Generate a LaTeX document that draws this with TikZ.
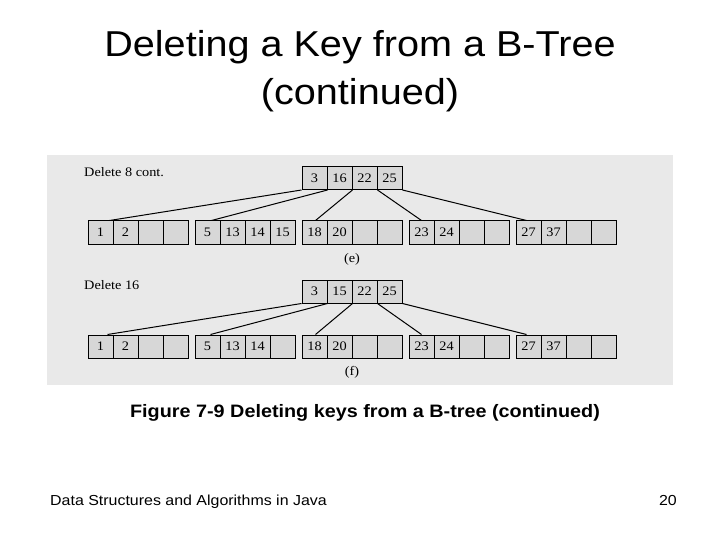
\documentclass[tikz,border=0pt]{standalone}
\usepackage{fontspec}
\setmainfont[FakeStretch=1.1]{Liberation Sans}
\newfontfamily\figfont[FakeStretch=1.1]{Liberation Serif}
\usetikzlibrary{calc}
\definecolor{bggray}{HTML}{E9E9E9}
\definecolor{cellgray}{HTML}{D7D7D7}
\tikzset{
  cell/.style={draw=black, line width=1pt, fill=cellgray, minimum width=25pt,
    minimum height=23pt, inner sep=0pt, font=\figfont\fontsize{13}{13}\selectfont},
  ptr/.style={draw=black, line width=1pt},
  lbl/.style={font=\figfont\fontsize{13}{13}\selectfont, inner sep=0pt},
  txt/.style={inner sep=0pt},
}
\newcommand\bnode[7]{%
  \node[cell] (#1a) at (#2+12.5,#3) {#4};
  \node[cell] (#1b) at (#2+37.5,#3) {#5};
  \node[cell] (#1c) at (#2+62.5,#3) {#6};
  \node[cell] (#1d) at (#2+87.5,#3) {#7};
}
\begin{document}
\begin{tikzpicture}[x=1pt,y=-1pt]
\useasboundingbox (0,0) rectangle (720,540);
\fill[white] (0,0) rectangle (720,540);
% titles
\node[txt, anchor=base, font=\fontsize{36}{40}\selectfont] (t1) at (360,57) {Deleting a Key from a B-Tree};
\node[txt, anchor=base, font=\fontsize{36}{40}\selectfont] (t2) at (360,105) {(continued)};
% figure background
\fill[bggray] (47,155) rectangle (673,385);
% (e)
\node[lbl, anchor=base west] (de) at (84,177) {Delete 8 cont.};
\bnode{r1}{302}{178}{3}{16}{22}{25}
\bnode{la}{88}{232.5}{1}{2}{}{}
\bnode{lb}{195}{232.5}{5}{13}{14}{15}
\bnode{lc}{302}{232.5}{18}{20}{}{}
\bnode{ld}{409}{232.5}{23}{24}{}{}
\bnode{le}{516}{232.5}{27}{37}{}{}
\draw[ptr] (r1a.south west) -- ($(laa.north)+(9,0)$);
\draw[ptr] (r1a.south east) -- ($(lba.north)+(4,0)$);
\draw[ptr] (r1b.south east) -- ($(lca.north)+(1,0)$);
\draw[ptr] (r1c.south east) -- (lda.north);
\draw[ptr] (r1d.south east) -- ($(lea.north)+(-2,0)$);
\node[lbl] (le1) at (352,259) {(e)};
% (f)
\node[lbl, anchor=base west] (df) at (84,289) {Delete 16};
\bnode{r2}{302}{291.5}{3}{15}{22}{25}
\bnode{ma}{88}{346.5}{1}{2}{}{}
\bnode{mb}{195}{346.5}{5}{13}{14}{}
\bnode{mc}{302}{346.5}{18}{20}{}{}
\bnode{md}{409}{346.5}{23}{24}{}{}
\bnode{me}{516}{346.5}{27}{37}{}{}
\draw[ptr] (r2a.south west) -- ($(maa.north)+(7,0)$);
\draw[ptr] (r2a.south east) -- ($(mba.north)+(3,0)$);
\draw[ptr] (r2b.south east) -- ($(mca.north)+(1,0)$);
\draw[ptr] (r2c.south east) -- (mda.north);
\draw[ptr] (r2d.south east) -- ($(mea.north)+(-2,0)$);
\node[lbl] (lf1) at (352,372) {(f)};
% caption and footer
\node[txt, anchor=base, font=\bfseries\fontsize{18}{20}\selectfont] (cap) at (365,417) {Figure 7-9 Deleting keys from a B-tree (continued)};
\node[txt, anchor=base west, font=\fontsize{14.5}{16}\selectfont] (ft) at (50,505) {Data Structures and Algorithms in Java};
\node[txt, anchor=base east, font=\fontsize{14.5}{16}\selectfont] (pg) at (677,505) {20};
\end{tikzpicture}
\end{document}
